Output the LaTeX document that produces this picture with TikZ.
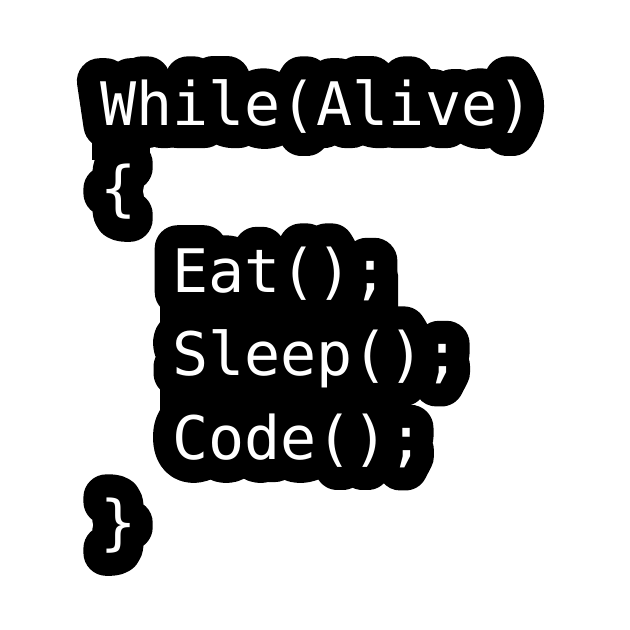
\documentclass[tikz,border=0pt]{standalone}
\usepackage{fontspec}
\setmonofont{DejaVu Sans Mono}
\newcommand\strokeon{\special{pdf:literal direct 46 w 1 j 1 J 2 Tr}}
\newcommand\strokeoff{\special{pdf:literal direct 0 Tr 0.4 w 0 j 0 J}}
\tikzset{
  codetxt/.style={font=\ttfamily\fontsize{60}{60}\selectfont, anchor=base west, inner sep=0pt, outer sep=0pt},
  gapfill/.style={fill=black, draw=none},
}
\newcommand\stickerline[3]{% name, position, text
  \node[codetxt, text=black] (#1bg) at (#2) {\strokeon#3\strokeoff};
}
\newcommand\stickertext[3]{% name, position, text
  \node[codetxt, text=white] (#1) at (#2) {#3};
}
\begin{document}
\begin{tikzpicture}[x=1pt,y=-1pt]
  \useasboundingbox[fill=white] (0,0) rectangle (630,630);
  \coordinate (p1) at (100,125);
  \coordinate (p2) at (100,209);
  \coordinate (p3) at (172,292);
  \coordinate (p4) at (172,375);
  \coordinate (p5) at (172,459);
  \coordinate (p6) at (100,543);
  % black sticker outline
  \stickerline{l1}{p1}{While(Alive)}
  \stickerline{l2}{p2}{\{}
  \stickerline{l3}{p3}{Eat();}
  \stickerline{l4}{p4}{Sleep();}
  \stickerline{l5}{p5}{Code();}
  \stickerline{l6}{p6}{\}}
  \coordinate (f1) at (160,265);
  \coordinate (f2) at (398,440);
  \fill[gapfill, rounded corners=10pt] (f1) rectangle (f2);
  \coordinate (f3) at (92,120);
  \coordinate (f4) at (150,160);
  \fill[gapfill] (f3) rectangle (f4);
  % white text
  \stickertext{l1}{p1}{While(Alive)}
  \stickertext{l2}{p2}{\{}
  \stickertext{l3}{p3}{Eat();}
  \stickertext{l4}{p4}{Sleep();}
  \stickertext{l5}{p5}{Code();}
  \stickertext{l6}{p6}{\}}
\end{tikzpicture}
\end{document}
